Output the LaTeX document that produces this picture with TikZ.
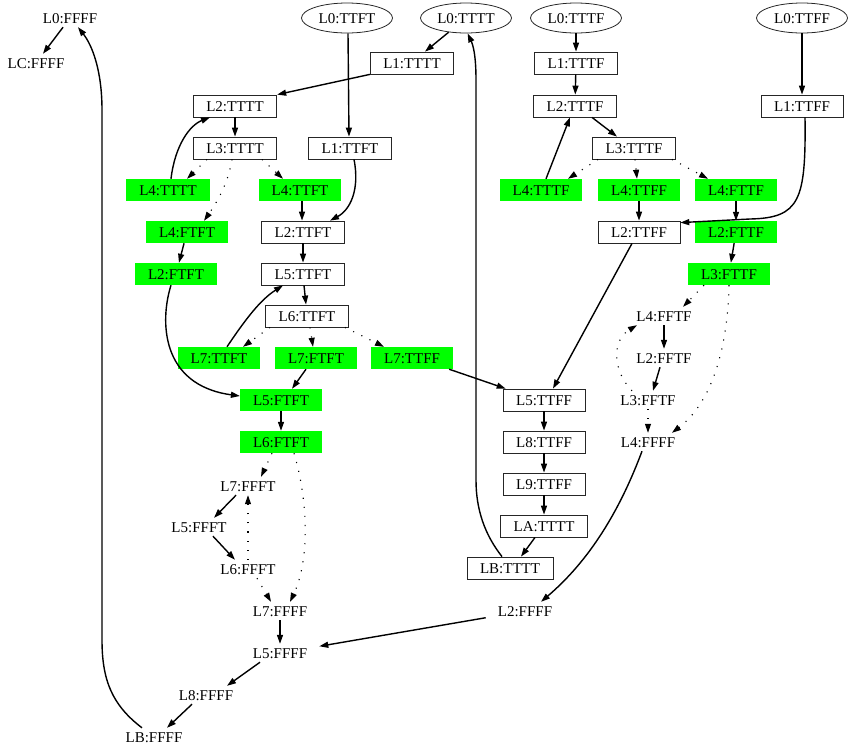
\documentclass[tikz,border=0pt]{standalone}
\usepackage{fontspec}
\setmainfont{Liberation Serif}
\usetikzlibrary{arrows.meta,shapes.geometric}
\definecolor{vgreen}{RGB}{0,255,0}
\tikzset{
  nfont/.style={font=\fontsize{15}{18}\selectfont, text height=10.5pt, text depth=0pt},
  bx/.style={nfont, draw=black!85, line width=0.8pt, rectangle, minimum height=22pt, inner xsep=13pt, inner ysep=0pt},
  gbx/.style={nfont, fill=vgreen, rectangle, minimum height=22pt, inner xsep=13pt, inner ysep=0pt},
  pl/.style={nfont, rectangle, minimum height=18pt, inner xsep=12pt, inner ysep=0pt},
  ell/.style={nfont, draw=black!85, line width=0.8pt, ellipse, minimum width=91pt, minimum height=30pt, inner sep=0pt},
  edg/.style={line width=1.4pt, -{Triangle[length=9pt,width=6pt]}},
  dotedg/.style={line width=1.1pt, dash pattern=on 1.1pt off 8pt, -{Triangle[length=9pt,width=6pt]}}
}
\begin{document}
\begin{tikzpicture}[x=1pt,y=-1pt]
\useasboundingbox (0,0) rectangle (848,748);
\node[pl] (a0) at (70,18) {L0:FFFF};
\node[pl] (ac) at (36,63) {LC:FFFF};
\node[ell] (t0) at (347,18) {L0:TTFT};
\node[ell] (u0) at (466,18) {L0:TTTT};
\node[ell] (v0) at (576,18) {L0:TTTF};
\node[ell] (w0) at (802,18) {L0:TTFF};
\node[bx] (u1) at (412,63) {L1:TTTT};
\node[bx] (v1) at (576,63) {L1:TTTF};
\node[bx] (u2) at (235,106) {L2:TTTT};
\node[bx] (v2) at (575,106) {L2:TTTF};
\node[bx] (w1) at (802,106) {L1:TTFF};
\node[bx] (u3) at (235,148) {L3:TTTT};
\node[bx] (t1) at (350,148) {L1:TTFT};
\node[bx] (v3) at (634,148) {L3:TTTF};
\node[gbx] (g4a) at (168,190) {L4:TTTT};
\node[gbx] (g4b) at (300,190) {L4:TTFT};
\node[gbx] (gv4a) at (541,190) {L4:TTTF};
\node[gbx] (gv4b) at (639,190) {L4:TTFF};
\node[gbx] (gv4c) at (736,190) {L4:FTTF};
\node[gbx] (g4c) at (187,232) {L4:FTFT};
\node[bx] (t2) at (303,232) {L2:TTFT};
\node[bx] (w2) at (639,232) {L2:TTFF};
\node[gbx] (gw2) at (736,232) {L2:FTTF};
\node[gbx] (g2a) at (176,274) {L2:FTFT};
\node[bx] (t5) at (303,274) {L5:TTFT};
\node[gbx] (gw3) at (729,274) {L3:FTTF};
\node[bx] (t6) at (307,316) {L6:TTFT};
\node[pl] (p4) at (664,316) {L4:FFTF};
\node[gbx] (g7a) at (219,358) {L7:TTFT};
\node[gbx] (g7b) at (316,358) {L7:FTFT};
\node[gbx] (g7c) at (412,358) {L7:TTFF};
\node[pl] (p2) at (664,358) {L2:FFTF};
\node[gbx] (g5) at (281,400) {L5:FTFT};
\node[bx] (s5) at (544,400) {L5:TTFF};
\node[pl] (p3) at (648,400) {L3:FFTF};
\node[gbx] (g6) at (281,442) {L6:FTFT};
\node[bx] (s8) at (544,442) {L8:TTFF};
\node[pl] (p4f) at (648,442) {L4:FFFF};
\node[pl] (f7t) at (248,486) {L7:FFFT};
\node[bx] (s9) at (544,484) {L9:TTFF};
\node[pl] (f5t) at (199,527) {L5:FFFT};
\node[bx] (sa) at (544,526) {LA:TTTT};
\node[pl] (f6t) at (248,569) {L6:FFFT};
\node[bx] (sb) at (510,568) {LB:TTTT};
\node[pl] (f7) at (280,611) {L7:FFFF};
\node[pl] (f2) at (525,611) {L2:FFFF};
\node[pl] (f5) at (280,653) {L5:FFFF};
\node[pl] (f8) at (206,695) {L8:FFFF};
\node[pl] (fb) at (154,737) {LB:FFFF};
% left column
\draw[edg] (a0) -- (ac);
\draw[edg] ([xshift=-12pt]fb.north) .. controls (112,705) and (102,680) .. (102,640) -- (102,110) .. controls (102,70) and (92,45) .. ([xshift=8pt]a0.south);
\draw[edg] ([xshift=1pt]t0.south) -- ([xshift=-1pt]t1.north);
\draw[edg] (u0) -- ([xshift=13pt]u1.north);
\draw[edg] (u1.south west) -- (u2.north east);
\draw[edg] (u2) -- (u3);
\draw[dotedg] ([xshift=-28pt]u3.south) -- ([xshift=19pt]g4a.north);
\draw[dotedg] ([xshift=-3pt]u3.south) .. controls (228,185) and (215,205) .. ([xshift=17pt]g4c.north);
\draw[dotedg] ([xshift=27pt]u3.south) -- ([xshift=-17pt]g4b.north);
\draw[edg] ([xshift=3pt]g4a.north) .. controls (175,145) and (190,125) .. ([xshift=-25pt]u2.south);
\draw[edg] ([xshift=4pt]t1.south) .. controls (360,190) and (350,210) .. ([xshift=27pt]t2.north);
\draw[edg] ([xshift=2pt]g4b.south) -- ([xshift=-1pt]t2.north);
\draw[edg] (g4c) -- (g2a);
\draw[edg] (t2) -- (t5);
\draw[edg] ([xshift=1pt]t5.south) -- ([xshift=-1pt]t6.north);
\draw[dotedg] ([xshift=-37pt]t6.south) -- ([xshift=24pt]g7a.north);
\draw[dotedg] ([xshift=3pt]t6.south) -- ([xshift=-3pt]g7b.north);
\draw[dotedg] ([xshift=38pt]t6.south) -- ([xshift=-28pt]g7c.north);
\draw[edg] ([xshift=8pt]g7a.north) .. controls (245,320) and (260,300) .. ([xshift=-20pt]t5.south);
\draw[edg] ([xshift=-5pt]g2a.south) .. controls (160,320) and (160,385) .. ([yshift=4pt]g5.west);
\draw[edg] ([xshift=-10pt]g7b.south) -- ([xshift=11pt]g5.north);
\draw[edg] ([xshift=-4pt]g7c.south east) -- ([xshift=3pt]s5.north west);
\draw[edg] (g5) -- (g6);
\draw[dotedg] ([xshift=-9pt]g6.south) -- ([xshift=13pt]f7t.north);
\draw[dotedg] ([xshift=13pt]g6.south) .. controls (308,500) and (310,560) .. ([xshift=10pt]f7.north);
\draw[edg] ([xshift=-12pt]f7t.south) -- ([xshift=15pt]f5t.north);
\draw[edg] ([xshift=14pt]f5t.south) -- ([xshift=-13pt]f6t.north);
\draw[dotedg] (f6t.north) -- (f7t.south);
\draw[dotedg] ([xshift=9pt]f6t.south) -- ([xshift=-9pt]f7.north);
\draw[edg] (f7) -- (f5);
\draw[edg] ([xshift=-20pt]f5.south) -- ([xshift=21pt]f8.north);
\draw[edg] ([xshift=-14pt]f8.south) -- ([xshift=13pt]fb.north);
\draw[edg] (f2) -- (f5);
% right part
\draw[edg] (v0) -- (v1);
\draw[edg] (v1) -- (v2);
\draw[edg] ([xshift=17pt]v2.south) -- ([xshift=-17pt]v3.north);
\draw[dotedg] ([xshift=-36pt]v3.south) -- ([xshift=27pt]gv4a.north);
\draw[dotedg] ([xshift=1pt]v3.south) -- ([xshift=-2pt]gv4b.north);
\draw[dotedg] ([xshift=38pt]v3.south) -- ([xshift=-28pt]gv4c.north);
\draw[edg] ([xshift=5pt]gv4a.north) -- ([xshift=-5pt]v2.south);
\draw[edg] (gv4b) -- (w2);
\draw[edg] (gv4c) -- (gw2);
\draw[edg] (w0) -- (w1);
\draw[edg] ([xshift=3pt]w1.south) .. controls (806,200) and (800,218) .. (750,219) -- ([yshift=-2pt]w2.north east);
\draw[edg] (gw2) -- (gw3);
\draw[edg] ([xshift=-7pt]w2.south) -- ([xshift=9pt]s5.north);
\draw[dotedg] ([xshift=-25pt]gw3.south) -- ([xshift=19pt]p4.north);
\draw[dotedg] (gw3.south) .. controls (728,340) and (715,400) .. ([xshift=24pt]p4f.north);
\draw[edg] (p4) -- (p2);
\draw[edg] ([xshift=-4pt]p2.south) -- ([xshift=5pt]p3.north);
\draw[dotedg] ([xshift=-16pt]p3.north) .. controls (612,370) and (612,340) .. ([xshift=-27pt]p4.south);
\draw[dotedg] (p3) -- (p4f);
\draw[edg] ([xshift=-6pt]p4f.south) .. controls (620,510) and (590,560) .. ([xshift=16pt]f2.north);
\draw[edg] (s5) -- (s8);
\draw[edg] (s8) -- (s9);
\draw[edg] (s9) -- (sa);
\draw[edg] ([xshift=-9pt]sa.south) -- ([xshift=11pt]sb.north);
\draw[edg] ([xshift=-8pt]sb.north) .. controls (485,535) and (476,510) .. (476,480) -- (476,80) .. controls (476,55) and (473,45) .. (u0.-84);
\end{tikzpicture}
\end{document}
